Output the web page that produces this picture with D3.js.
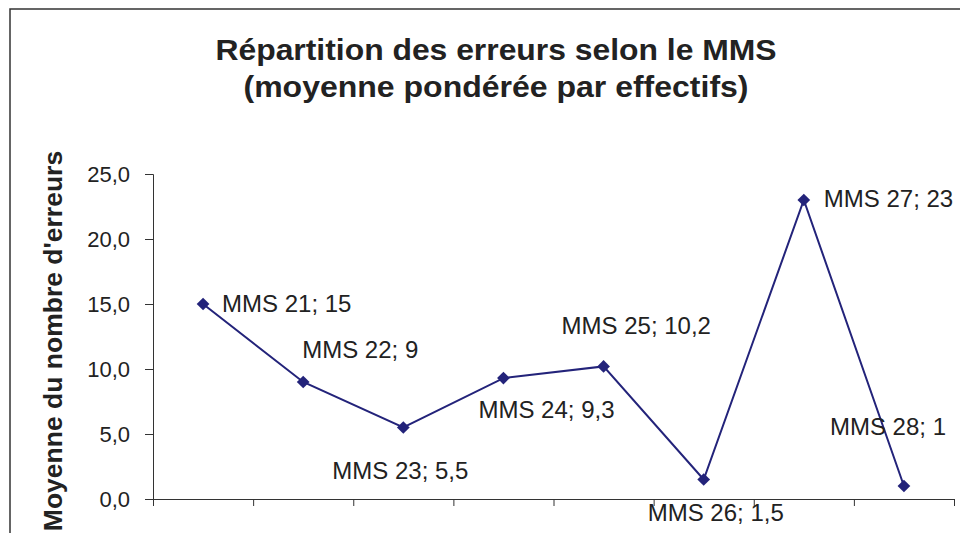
<!DOCTYPE html>
<html>
<head>
<meta charset="utf-8">
<script src="https://cdn.jsdelivr.net/npm/d3@7"></script>
<style>
  body { margin: 0; background: #fff; }
  svg { display: block; font-family: "Liberation Sans", Arial, sans-serif; }
</style>
</head>
<body>
<svg id="chart" width="960" height="533"></svg>
<script>
// chart data
const categories = ['MMS 21', 'MMS 22', 'MMS 23', 'MMS 24', 'MMS 25', 'MMS 26', 'MMS 27', 'MMS 28']
const values = [15, 9, 5.5, 9.3, 10.2, 1.5, 23, 1]
const valueLabels = ['15', '9', '5,5', '9,3', '10,2', '1,5', '23', '1']
const yTicks = [0, 5, 10, 15, 20, 25]
const titleLines = ['Répartition des erreurs selon le MMS', '(moyenne pondérée par effectifs)']

// where each data label sits relative to its marker (moved by hand in the original)
const labelOffsets = [[19, 0], [-1, -32], [-71, 43], [-25, 31], [-42, -41], [-56, 33], [20, -1], [-74, -59]]

const svg = d3.select('#chart')
const padding = { left: 153, top: 174, right: 6, bottom: 34 }
const width = 954 - padding.left
const height = 499 - padding.top
const lineColor = '#23237a'
const inkColor = '#222'

// outer frame, cut by the picture edge
svg.append('rect')
  .attr('x', 10).attr('y', 9)
  .attr('width', 1000).attr('height', 600)
  .attr('fill', 'none')
  .attr('stroke', '#333')
  .attr('stroke-width', 1.5)

// title glyphs are a bit wider than plain Arial in the original
const titleBase = [60, 97]
const titleWidth = [561, 505]
svg.selectAll('.title')
  .data(titleLines)
  .enter()
  .append('text')
  .attr('class', 'title')
  .attr('x', 496)
  .attr('y', (d, i) => titleBase[i])
  .attr('text-anchor', 'middle')
  .attr('font-size', 29).attr('font-weight', 'bold')
  .attr('textLength', (d, i) => titleWidth[i])
  .attr('lengthAdjust', 'spacingAndGlyphs')
  .attr('fill', inkColor)
  .text(d => d)

svg.append('text')
  .attr('transform', 'translate(62,341) rotate(-90)')
  .attr('text-anchor', 'middle')
  .attr('font-size', 26.5).attr('font-weight', 'bold')
  .attr('fill', inkColor)
  .text("Moyenne du nombre d'erreurs")

const xScale = d3.scaleBand().domain(categories).range([0, width])
const yScale = d3.scaleLinear().domain([0, 25]).range([height, 0])

const g = svg.append('g')
  .attr('transform', 'translate(' + padding.left + ',' + padding.top + ')')

const yAxis = g.append('g')
  .call(d3.axisLeft(yScale).tickValues(yTicks).tickSize(8).tickPadding(15)
    .tickFormat(d => d3.format('.1f')(d).replace('.', ',')))
yAxis.selectAll('path, line').attr('stroke', '#333')
yAxis.selectAll('text')
  .attr('font-size', 22)
  .attr('font-family', '"Liberation Sans", Arial, sans-serif')
  .attr('fill', inkColor)

// category ticks sit on band edges, no labels
const edges = categories.map(c => xScale(c)).concat([width])
const xAxis = g.append('g')
  .attr('transform', 'translate(0,' + height + ')')
  .call(d3.axisBottom(d3.scaleLinear().domain([0, width]).range([0, width]))
    .tickValues(edges).tickSize(7).tickSizeOuter(0).tickFormat(''))
xAxis.selectAll('path, line').attr('stroke', '#333')

const cx = (d, i) => xScale(categories[i]) + xScale.bandwidth() / 2
const cy = d => yScale(d)

g.append('path')
  .datum(values)
  .attr('fill', 'none')
  .attr('stroke', lineColor)
  .attr('stroke-width', 2)
  .attr('d', d3.line().x(cx).y(cy))

g.selectAll('.marker')
  .data(values)
  .enter()
  .append('path')
  .attr('class', 'marker')
  .attr('transform', (d, i) => 'translate(' + cx(d, i) + ',' + cy(d) + ') rotate(45)')
  .attr('d', 'M-4.5,-4.5H4.5V4.5H-4.5Z')
  .attr('fill', lineColor)

g.selectAll('.label')
  .data(values)
  .enter()
  .append('text')
  .attr('class', 'label')
  .attr('x', (d, i) => cx(d, i) + labelOffsets[i][0])
  .attr('y', (d, i) => cy(d) + labelOffsets[i][1])
  .attr('dy', '0.35em')
  .attr('font-size', 24)
  .attr('fill', inkColor)
  .text((d, i) => categories[i] + '; ' + valueLabels[i])
</script>
</body>
</html>
